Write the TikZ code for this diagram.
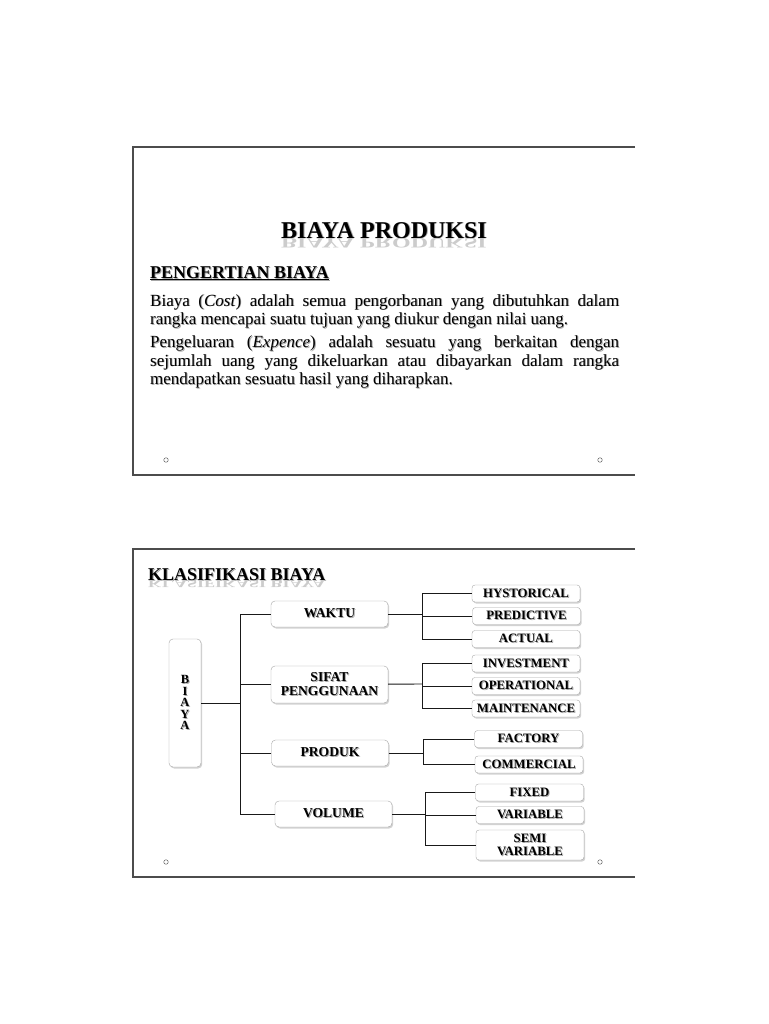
\documentclass[tikz,border=0pt]{standalone}
\usepackage{fontspec}
\setmainfont{Liberation Serif}
\usetikzlibrary{shadows}

\newcommand\shtxt[1]{\leavevmode\rlap{\kern1pt\raisebox{-1pt}{\textcolor{black!35}{#1}}}#1}
\newcommand\pengertiantext{%
  \setlength{\parskip}{4.5pt}%
  Biaya (\textit{Cost}) adalah semua pengorbanan yang dibutuhkan dalam\linebreak
  rangka mencapai suatu tujuan yang diukur dengan nilai uang.\par
  Pengeluaran (\textit{Expence}) adalah sesuatu yang berkaitan dengan\linebreak
  sejumlah uang yang dikeluarkan atau dibayarkan dalam rangka\linebreak
  mendapatkan sesuatu hasil yang diharapkan.}

\begin{document}
\begin{tikzpicture}[
  x=1pt, y=-1pt,
  frame/.style={draw=black!70, line width=1.2pt},
  dot/.style={draw=black!60, circle, inner sep=0pt, minimum size=4.5pt, line width=0.5pt},
  title/.style={font=\bfseries\fontsize{24}{26}\selectfont, anchor=base, inner sep=0pt},
  heading/.style={font=\bfseries\fontsize{18}{20}\selectfont, anchor=base west, inner sep=0pt},
  mirror/.style={text=black!20, yscale=-0.6, transform shape},
  body/.style={anchor=base west, text width=469pt, align=justify, inner sep=0pt,
    font=\fontsize{17}{18.5}\selectfont},
  cat/.style={draw=black!35, rounded corners=4pt, fill=white, minimum width=117pt,
    minimum height=26pt, align=center, inner sep=1pt, font=\bfseries\fontsize{13.6}{14}\selectfont,
    drop shadow={opacity=0.35, shadow xshift=1.2pt, shadow yshift=-1.5pt}},
  leaf/.style={cat, rounded corners=3pt, minimum width=108pt, minimum height=17pt,
    font=\bfseries\fontsize{12.8}{12.8}\selectfont},
  link/.style={draw=black!90, line width=0.9pt}
]
\fill[white] (0,0) rectangle (768,1024);
\useasboundingbox (0,0) rectangle (768,1024);

\draw[frame] (635,147) -- (133,147) -- (133,475) -- (635,475);
\node[title] (judul) at (384,238) {\shtxt{BIAYA PRODUKSI}};
\node[title, mirror] (judulref) at (384,238) {BIAYA PRODUKSI};
\node[heading] (pengertian) at (150,278) {\shtxt{\underline{PENGERTIAN BIAYA}}};
\node[body, text=black!35, xshift=0.9pt, yshift=-0.9pt] (defshadow) at (150,306) {\pengertiantext};
\node[body] (def) at (150,306) {\pengertiantext};
\node[dot] (dot1) at (166,460) {};
\node[dot] (dot2) at (600,460) {};

\draw[frame] (635,549) -- (133,549) -- (133,877) -- (635,877);
\node[heading] (klas) at (148,580) {\shtxt{KLASIFIKASI BIAYA}};
\node[heading, mirror] (klasref) at (148,580) {KLASIFIKASI BIAYA};
\node[dot] (dot3) at (166,862) {};
\node[dot] (dot4) at (600,862) {};

\node[cat, minimum width=32pt, minimum height=128pt, font=\bfseries\fontsize{12.5}{11.5}\selectfont]
  (biaya) at (185,703) {\shtxt{B}\\\shtxt{I}\\\shtxt{A}\\\shtxt{Y}\\\shtxt{A}};

\node[cat] (waktu) at (329.5,614) {\shtxt{WAKTU}};
\node[cat, minimum height=37pt] (sifat) at (329.5,684.5) {\shtxt{SIFAT}\\\shtxt{PENGGUNAAN}};
\node[cat] (produk) at (330,753) {\shtxt{PRODUK}};
\node[cat] (volume) at (333.5,814) {\shtxt{VOLUME}};

\node[leaf] (hyst) at (526,593.5) {\shtxt{HYSTORICAL}};
\node[leaf] (pred) at (526.5,616) {\shtxt{PREDICTIVE}};
\node[leaf] (act) at (526,639) {\shtxt{ACTUAL}};
\node[leaf] (inv) at (526,663.5) {\shtxt{INVESTMENT}};
\node[leaf] (oper) at (526,686) {\shtxt{OPERATIONAL}};
\node[leaf] (maint) at (526,708.5) {\shtxt{MAINTENANCE}};
\node[leaf] (fact) at (528.5,739) {\shtxt{FACTORY}};
\node[leaf] (comm) at (529,764.5) {\shtxt{COMMERCIAL}};
\node[leaf] (fixed) at (529.5,792.5) {\shtxt{FIXED}};
\node[leaf] (var) at (530,815) {\shtxt{VARIABLE}};
\node[leaf, minimum height=30pt] (semi) at (530,845) {\shtxt{SEMI}\\\shtxt{VARIABLE}};

\coordinate (trunk) at (240,703);
\coordinate (wj) at (422,614);
\coordinate (sj) at (422,684);
\coordinate (pj) at (423,753);
\coordinate (vj) at (425,814);

\draw[link] (biaya) -- (trunk);
\draw[link] (waktu.west) -| (trunk);
\draw[link] (sifat.west) -| (trunk);
\draw[link] (produk.west) -| (trunk);
\draw[link] (volume.west) -| (trunk);

\draw[link] (waktu) -- (wj);
\draw[link] (hyst.west) -| (wj);
\draw[link] (pred.west) -| (wj);
\draw[link] (act.west) -| (wj);
\draw[link] (sifat) -- (sj);
\draw[link] (inv.west) -| (sj);
\draw[link] (oper.west) -| (sj);
\draw[link] (maint.west) -| (sj);
\draw[link] (produk) -- (pj);
\draw[link] (fact.west) -| (pj);
\draw[link] (comm.west) -| (pj);
\draw[link] (volume) -- (vj);
\draw[link] (fixed.west) -| (vj);
\draw[link] (var.west) -| (vj);
\draw[link] (semi.west) -| (vj);
\end{tikzpicture}
\end{document}
